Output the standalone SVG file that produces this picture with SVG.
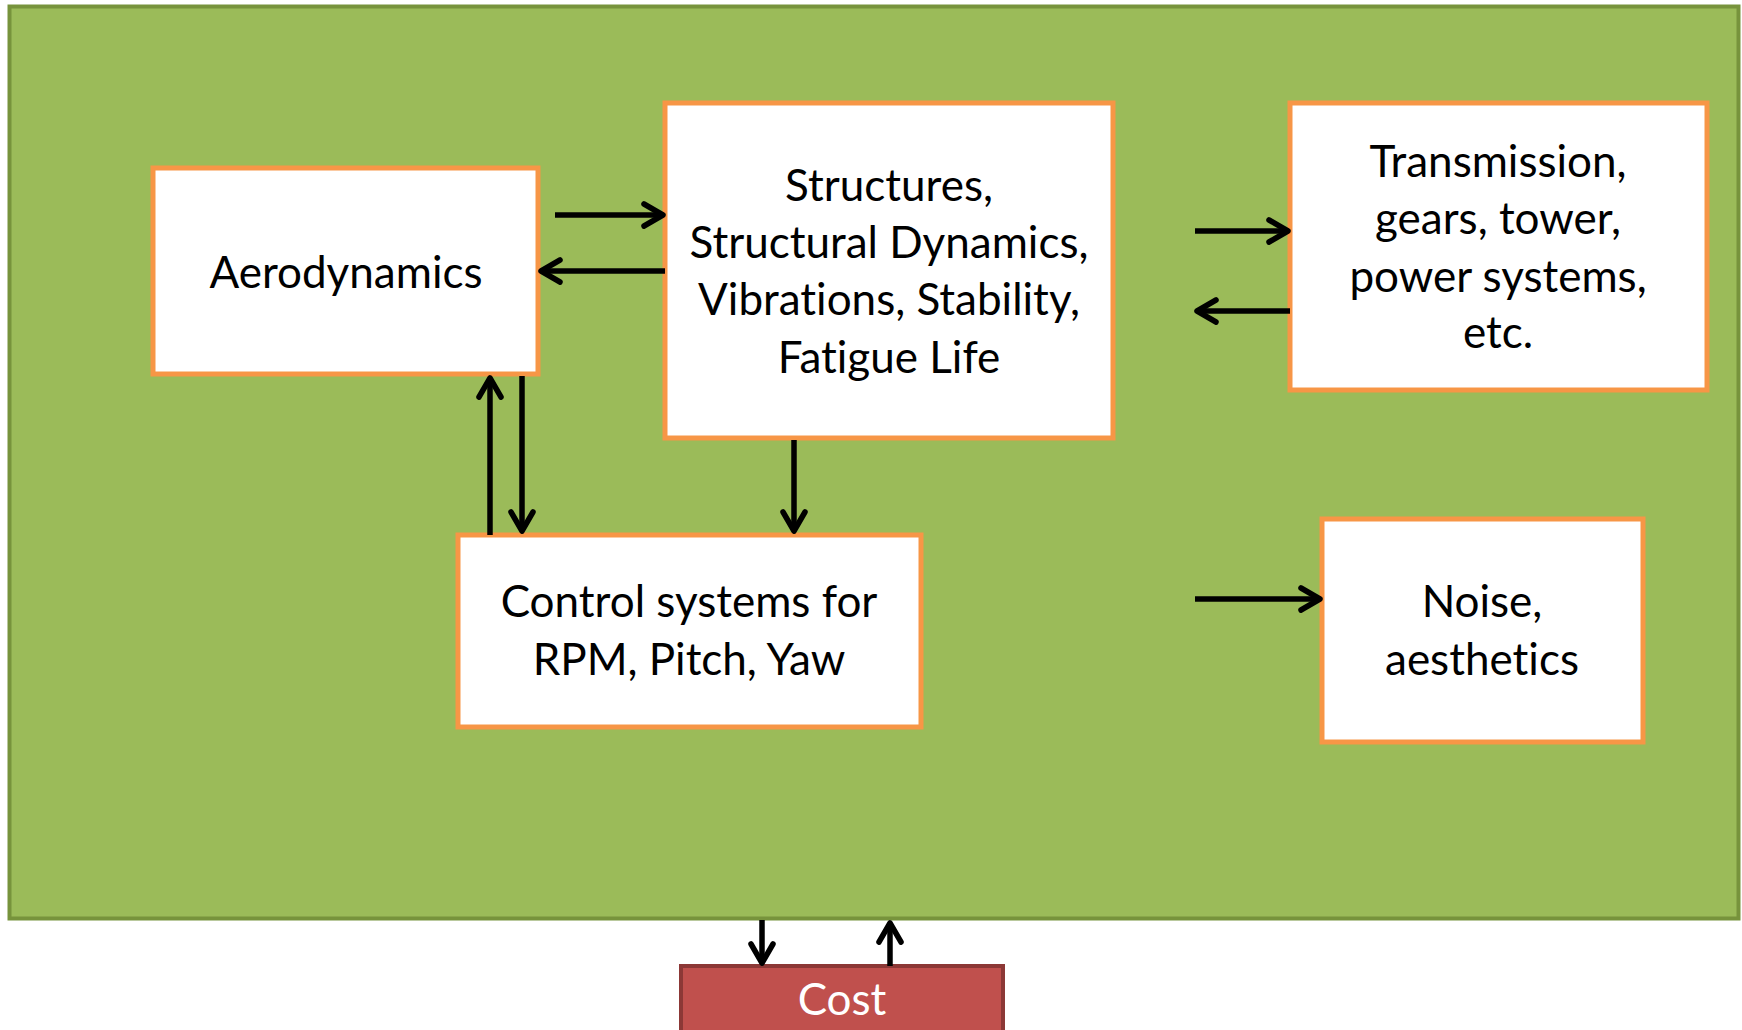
<svg xmlns="http://www.w3.org/2000/svg" width="1742" height="1030" viewBox="0 0 1742 1030">
<style>
.node{fill:#ffffff;stroke:#f79646;stroke-width:5}
.lbl{font-family:Lato,"Liberation Sans",sans-serif;font-size:44px;fill:#000000;text-anchor:middle;font-variant-ligatures:none;font-feature-settings:"liga" 0}
.conn{stroke:#000000;stroke-width:5.5;fill:none;marker-end:url(#arr)}
</style>
<defs>
<marker id="arr" markerUnits="userSpaceOnUse" viewBox="-24 -14 30 28" markerWidth="30" markerHeight="28" refX="0" refY="0" orient="auto">
<path d="M -19 -11 L 0 0 L -19 11" fill="none" stroke="#000000" stroke-width="5.5" stroke-linecap="round" stroke-linejoin="round"/>
</marker>
</defs>
<rect width="1742" height="1030" fill="#ffffff"/>
<g id="container">
<rect x="9.5" y="6.5" width="1729" height="912" fill="#9bbb59" stroke="#77933c" stroke-width="4"/>
</g>
<g id="aerodynamics">
<rect class="node" x="153" y="168" width="385" height="206"/>
<text class="lbl" x="346" y="288">Aerodynamics</text>
</g>
<g id="structures">
<rect class="node" x="665" y="103" width="448" height="335"/>
<text class="lbl" x="889" y="201">Structures,</text>
<text class="lbl" x="889" y="258">Structural Dynamics,</text>
<text class="lbl" x="889" y="315">Vibrations, Stability,</text>
<text class="lbl" x="889" y="373">Fatigue Life</text>
</g>
<g id="transmission">
<rect class="node" x="1290" y="103" width="417" height="287"/>
<text class="lbl" x="1498" y="177">Transmission,</text>
<text class="lbl" x="1498" y="234">gears, tower,</text>
<text class="lbl" x="1498" y="292">power systems,</text>
<text class="lbl" x="1498" y="348">etc.</text>
</g>
<g id="control">
<rect class="node" x="458" y="535" width="463" height="192"/>
<text class="lbl" x="689" y="617">Control systems for</text>
<text class="lbl" x="689" y="675">RPM, Pitch, Yaw</text>
</g>
<g id="noise">
<rect class="node" x="1322" y="519" width="321" height="223"/>
<text class="lbl" x="1482" y="617">Noise,</text>
<text class="lbl" x="1482" y="675">aesthetics</text>
</g>
<g id="cost">
<rect x="681" y="966" width="322" height="80" fill="#c0504d" stroke="#8c3836" stroke-width="4"/>
<text class="lbl" x="842" y="1015" style="fill:#ffffff">Cost</text>
</g>
<g id="connectors">
<line class="conn" x1="555" y1="215" x2="663" y2="215"/>
<line class="conn" x1="665" y1="271" x2="541" y2="271"/>
<line class="conn" x1="1195" y1="231" x2="1288" y2="231"/>
<line class="conn" x1="1290" y1="311" x2="1197" y2="311"/>
<line class="conn" x1="490" y1="535" x2="490" y2="378"/>
<line class="conn" x1="522" y1="376" x2="522" y2="531"/>
<line class="conn" x1="794" y1="440" x2="794" y2="531"/>
<line class="conn" x1="1195" y1="599" x2="1320" y2="599"/>
<line class="conn" x1="762" y1="920" x2="762" y2="963"/>
<line class="conn" x1="890" y1="966" x2="890" y2="923"/>
</g>
</svg>
